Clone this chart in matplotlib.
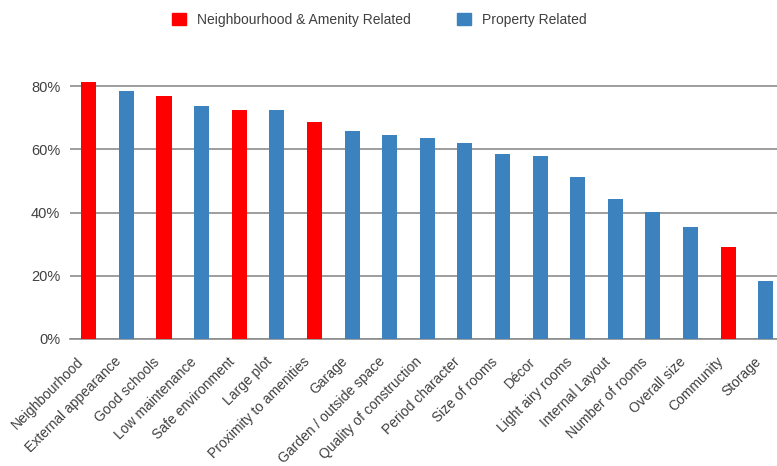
import matplotlib.pyplot as plt
import matplotlib.transforms as mtransforms
from matplotlib.patches import Patch
from matplotlib.ticker import PercentFormatter

plt.rcParams['font.family'] = ['Liberation Sans', 'DejaVu Sans']

categories = ["Neighbourhood", "External appearance", "Good schools", "Low maintenance",
              "Safe environment", "Large plot", "Proximity to amenities", "Garage",
              "Garden / outside space", "Quality of construction", "Period character",
              "Size of rooms", "Décor", "Light airy rooms", "Internal Layout",
              "Number of rooms", "Overall size", "Community", "Storage"]
values = [81.3, 78.4, 76.8, 73.7, 72.4, 72.4, 68.6, 65.8, 64.5, 63.6, 62.0,
          58.5, 57.9, 51.2, 44.3, 40.3, 35.4, 29.1, 18.3]
groups = ["N", "P", "N", "P", "N", "P", "N", "P", "P", "P", "P",
          "P", "P", "P", "P", "P", "P", "N", "P"]

red = "#FF0000"
blue = "#3C82BE"
colors = [red if g == "N" else blue for g in groups]

fig = plt.figure(figsize=(7.77, 4.66), dpi=100)
ax = fig.add_axes([70/777, (466-339)/466, (777-70)/777, (339-54.6)/466])

x = range(len(categories))
ax.bar(x, values, width=0.4, color=colors, zorder=3)

ax.set_xlim(-0.5, 18.3)
ax.set_ylim(0, 90)
ax.set_yticks([0, 20, 40, 60, 80])
ax.yaxis.set_major_formatter(PercentFormatter(decimals=0))
ax.grid(axis="y", color="#8c8c8c", linewidth=1.2, zorder=0)
for s in ["top", "right", "left"]:
    ax.spines[s].set_visible(False)
ax.spines["bottom"].set_color("#8c8c8c")
ax.spines["bottom"].set_linewidth(1.2)
ax.tick_params(axis="y", length=0, pad=7, labelsize=10.5, labelcolor="#404040")
ax.tick_params(axis="x", length=0, pad=4, labelsize=10, labelcolor="#404040")
ax.set_xticks(list(x))
ax.set_xticklabels(categories, rotation=45, ha="right", rotation_mode="anchor")

# nudge rotated labels down-left like the original
offset = mtransforms.ScaledTranslation(-0.12, -0.10, fig.dpi_scale_trans)
for lbl in ax.get_xticklabels():
    lbl.set_transform(lbl.get_transform() + offset)

handles = [Patch(color=red, label="Neighbourhood & Amenity Related"),
           Patch(color=blue, label="Property Related")]
fig.legend(handles=handles, loc="center", bbox_to_anchor=(0.488, 0.958), ncol=2,
           frameon=False, fontsize=10, handlelength=1.0, handleheight=1.0,
           columnspacing=3.3, labelcolor="#404040")

fig.savefig("out.png", dpi=100)
